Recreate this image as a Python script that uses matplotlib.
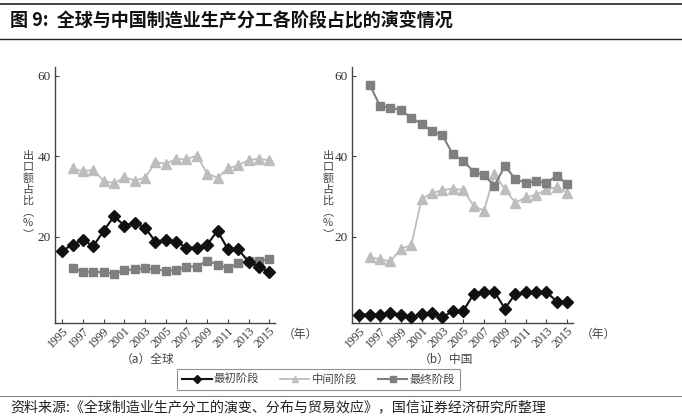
import matplotlib
matplotlib.use("Agg")
import matplotlib.pyplot as plt
from matplotlib.lines import Line2D

plt.rcParams['font.family'] = ['Noto Sans CJK SC', 'DejaVu Sans']

years = list(range(1995, 2016))
years_b = list(range(1996, 2016))

# Global
g_first = [16.5, 18.1, 19.2, 17.7, 21.5, 25.1, 22.8, 23.5, 22.3, 18.8, 19.2, 18.8,
           17.3, 17.3, 18.1, 21.5, 16.9, 16.9, 13.8, 12.6, 11.2]
g_mid = [37.0, 36.3, 36.7, 33.9, 33.3, 34.8, 34.0, 34.7, 38.5, 38.2, 39.3, 39.3,
         40.2, 35.7, 34.7, 37.0, 37.8, 39.1, 39.4, 39.0]
g_final = [12.2, 11.3, 11.3, 11.2, 10.8, 11.7, 11.9, 12.2, 11.9, 11.6, 11.7, 12.6,
           12.6, 14.1, 13.1, 12.2, 13.4, 14.1, 14.1, 14.5]

# China
c_first = [0.7, 0.7, 0.7, 1.1, 0.7, 0.0, 0.8, 1.1, 0.0, 1.6, 1.6, 5.8,
           6.3, 6.3, 2.2, 5.8, 6.3, 6.3, 6.3, 3.9, 3.9]
c_mid = [15.0, 14.4, 13.9, 17.1, 17.9, 29.5, 30.9, 31.6, 32.0, 31.6, 27.7, 26.5,
         35.6, 31.8, 28.5, 29.8, 30.4, 31.8, 32.3, 31.0]
c_final = [57.8, 52.5, 52.1, 51.5, 49.6, 48.0, 46.3, 45.2, 40.5, 38.9, 36.2, 35.3,
           32.7, 37.6, 34.4, 33.4, 33.8, 33.4, 35.2, 33.1]

series_names = ['最初阶段', '中间阶段', '最终阶段']
yticks = [20, 40, 60]
xticks = list(range(1995, 2016, 2))

W, H = 682, 417
fig = plt.figure(figsize=(W / 100, H / 100), dpi=100)

c_black = '#111111'
c_light = '#bdbdbd'
c_gray = '#7f7f7f'

serif = ['Liberation Serif', 'DejaVu Serif']

def make_ax(x0, x1, first, mid, final, sub, ylabel_x):
    ax = fig.add_axes([x0 / W, 1 - 323 / H, (x1 - x0) / W, (323 - 67) / H])
    ax.plot(years_b, mid, color=c_light, lw=1.3, marker='^', ms=7,
            mec=c_light, mfc=c_light, zorder=2)
    ax.plot(years_b, final, color=c_gray, lw=1.5, marker='s', ms=6.3,
            mec=c_gray, mfc=c_gray, zorder=3)
    ax.plot(years, first, color=c_black, lw=1.5, marker='D', ms=5.8,
            mec=c_black, mfc=c_black, zorder=4)
    ax.set_xlim(1994.3, 2015.55)
    ax.set_ylim(-1.4, 62.2)
    ax.set_yticks(yticks)
    ax.set_xticks(xticks)
    ax.set_xticklabels([str(y) for y in xticks], rotation=45, ha='right',
                       rotation_mode='anchor', family=serif, fontsize=8.5, color='#333333')
    ax.set_yticklabels([str(v) for v in yticks], family=serif, fontsize=9.5, color='#333333')
    for s in ['top', 'right']:
        ax.spines[s].set_visible(False)
    for s in ['left', 'bottom']:
        ax.spines[s].set_color('#444444')
        ax.spines[s].set_linewidth(1.0)
    ax.tick_params(direction='in', length=3, width=0.8, color='#444444', pad=3)
    ax.tick_params(axis='x', pad=1.5)
    # (年)
    fig.text((x1 + 8) / W, 1 - 334 / H, '（年）', fontsize=8.5, color='#444444',
             ha='left', va='center')
    # subtitle
    fig.text((x0 + x1) / 2 / W - 0.025, 1 - 359 / H, sub,
             fontsize=8.5, color='#444444', ha='center', va='center')
    # vertical ylabel
    chars = ['出', '口', '额', '占', '比', '︵', '%', '︶']
    for i, ch in enumerate(chars):
        fig.text(ylabel_x / W, 1 - (156 + i * 11.2) / H, ch, fontsize=8,
                 color='#444444', ha='center', va='center')
    return ax

make_ax(55, 275, g_first, g_mid, g_final, '（a）全球', 28)
make_ax(352, 573, c_first, c_mid, c_final, '（b）中国', 328)

# Title and rules
fig.add_artist(Line2D([0, 1], [1 - 4 / H, 1 - 4 / H], color='#222222', lw=1.2))
fig.add_artist(Line2D([0, 1], [1 - 39 / H, 1 - 39 / H], color='#222222', lw=1.0))
fig.text(10 / W, 1 - 21 / H, '图 9:  全球与中国制造业生产分工各阶段占比的演变情况',
         fontsize=13, fontweight='bold', color='#111111', ha='left', va='center')

# Legend
handles = [
    Line2D([], [], color=c_black, lw=1.5, marker='D', ms=4.5, mfc=c_black, mec=c_black),
    Line2D([], [], color=c_light, lw=1.3, marker='^', ms=4.5, mfc=c_light, mec=c_light),
    Line2D([], [], color=c_gray, lw=1.5, marker='s', ms=4.5, mfc=c_gray, mec=c_gray),
]
leg = fig.legend(handles, series_names, loc='center', bbox_to_anchor=(318.5 / W, 1 - 379.5 / H),
                 ncol=3, fontsize=8.2, frameon=True, fancybox=False, edgecolor='#777777',
                 handlelength=2.6, columnspacing=1.8, borderpad=0.4, handletextpad=0.2)
leg.get_frame().set_linewidth(0.8)
for t in leg.get_texts():
    t.set_color('#444444')

# Bottom rule and source
fig.add_artist(Line2D([0, 1], [1 - 396 / H, 1 - 396 / H], color='#888888', lw=0.8))
fig.text(10 / W, 1 - 408 / H,
         '资料来源:《全球制造业生产分工的演变、分布与贸易效应》，国信证券经济研究所整理',
         fontsize=10.1, color='#222222', ha='left', va='center')

fig.savefig('out.png', dpi=100)
